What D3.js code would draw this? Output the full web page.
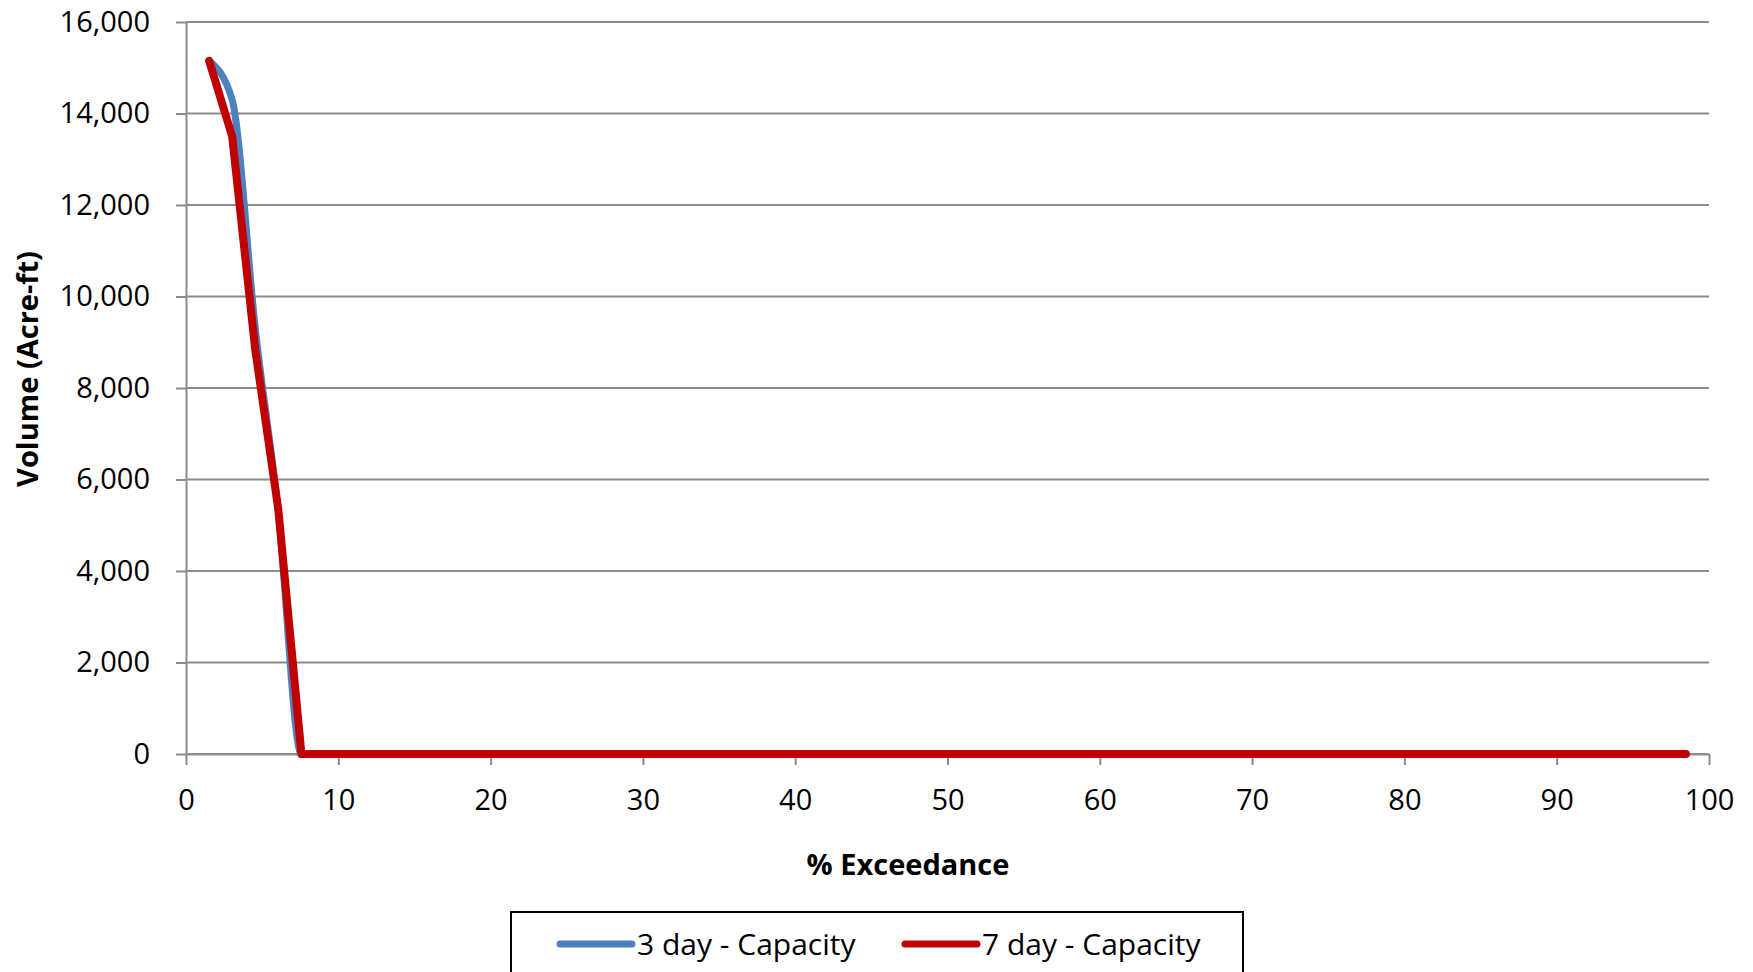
<!DOCTYPE html>
<head>
<meta charset="utf-8">
    <script src="https://d3js.org/d3.v7.min.js"></script>
    <style>
        body { margin: 0; background: #fff; }
        svg { display: block; font-family: "Open Sans", sans-serif; }
        .grid line { stroke: #8c8c8c; stroke-width: 2px; }
        .axis path, .axis line { stroke: #8c8c8c; stroke-width: 2px; }
        .axis text { font-size: 29px; fill: #000; font-family: "Open Sans", sans-serif; }
    </style>
</head>
<body>
<svg></svg>
<script>
    var width = 1753;
    var height = 972;

    // data
    var exceedance = [1.52, 3.03, 4.55, 6.06, 7.58, 98.48];
    var threeDay = [15150, 14300, 9300, 5300, 0, 0];
    var sevenDay = [15150, 13500, 8830, 5350, 0, 0];
    var xTicks = [0, 10, 20, 30, 40, 50, 60, 70, 80, 90, 100];
    var yTicks = [0, 2000, 4000, 6000, 8000, 10000, 12000, 14000, 16000];
    var seriesNames = ["3 day - Capacity", "7 day - Capacity"];
    var seriesColors = ["#4f81bd", "#c00000"];

    var margin = {top: 22, right: 44, bottom: 218, left: 186};
    var w = width - margin.left - margin.right;
    var h = height - margin.top - margin.bottom;

    var svg = d3.select("svg")
        .attr("width", width)
        .attr("height", height);

    var g = svg.append("g").attr("transform", "translate(" + margin.left + "," + margin.top + ")");

    var x = d3.scaleLinear().domain([0, 100]).range([0, w]);
    var y = d3.scaleLinear().domain([0, 16000]).range([h, 0]);

    // horizontal gridlines
    g.append("g").attr("class", "grid")
        .selectAll("line")
        .data(yTicks)
        .enter().append("line")
        .attr("x1", 0).attr("x2", w)
        .attr("y1", function(d){ return y(d); })
        .attr("y2", function(d){ return y(d); });

    var fmt = d3.format(",");

    var yAxis = g.append("g").attr("class", "axis")
        .call(d3.axisLeft(y).tickValues(yTicks).tickFormat(fmt).tickSizeInner(10).tickSizeOuter(0).tickPadding(26));

    var xAxis = g.append("g").attr("class", "axis")
        .attr("transform", "translate(0," + h + ")")
        .call(d3.axisBottom(x).tickValues(xTicks).tickSizeInner(11).tickSizeOuter(0).tickPadding(24));

    // lines
    var pts3 = exceedance.map(function(e, i){ return [e, threeDay[i]]; });
    var pts7 = exceedance.map(function(e, i){ return [e, sevenDay[i]]; });

    var smooth = d3.line()
        .x(function(d){ return x(d[0]); })
        .y(function(d){ return y(d[1]); })
        .curve(d3.curveMonotoneX);
    var straight = d3.line()
        .x(function(d){ return x(d[0]); })
        .y(function(d){ return y(d[1]); });

    g.append("path").attr("d", smooth(pts3))
        .style("fill", "none").style("stroke", seriesColors[0])
        .style("stroke-width", 7).style("stroke-linejoin", "round").style("stroke-linecap", "round");

    g.append("path").attr("d", straight(pts7))
        .style("fill", "none").style("stroke", seriesColors[1])
        .style("stroke-width", 8).style("stroke-linejoin", "round").style("stroke-linecap", "round");

    // axis titles
    svg.append("text")
        .attr("x", 908).attr("y", 875)
        .attr("text-anchor", "middle")
        .style("font-size", "29px").style("font-weight", "bold")
        .text("% Exceedance");

    svg.append("text")
        .attr("transform", "translate(38,369) rotate(-90)")
        .attr("text-anchor", "middle")
        .style("font-size", "29px").style("font-weight", "bold")
        .text("Volume (Acre-ft)");

    // legend
    var legend = svg.append("g");
    legend.append("rect")
        .attr("x", 511).attr("y", 912).attr("width", 732).attr("height", 80)
        .style("fill", "#fff").style("stroke", "#000").style("stroke-width", 2);

    var legendX = [560, 905];
    seriesNames.forEach(function(name, i){
        legend.append("line")
            .attr("x1", legendX[i]).attr("x2", legendX[i] + 72)
            .attr("y1", 944).attr("y2", 944)
            .style("stroke", seriesColors[i]).style("stroke-width", 7).style("stroke-linecap", "round");
        legend.append("text")
            .attr("x", legendX[i] + 77).attr("y", 955)
            .style("font-size", "30px")
            .text(name);
    });
</script>
</body>
